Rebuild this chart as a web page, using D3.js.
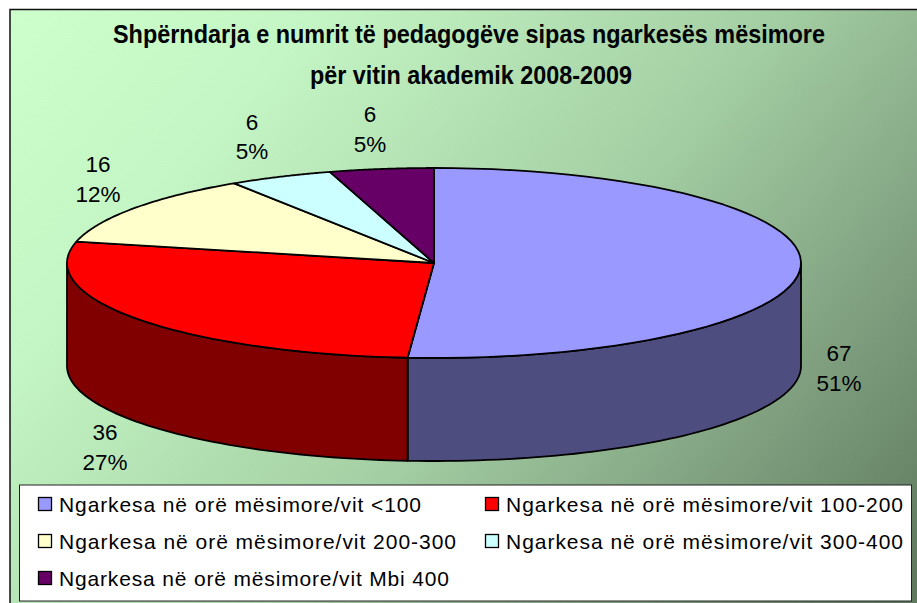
<!DOCTYPE html>
<html><head><meta charset="utf-8">
<style>html,body{margin:0;padding:0;background:#fff;overflow:hidden}svg{display:block}text{font-family:"Liberation Sans",Arial,sans-serif;fill:#000}</style>
<script src="https://cdn.jsdelivr.net/npm/d3@7"></script></head><body>
<script>
const categories=["Ngarkesa në orë mësimore/vit <100","Ngarkesa në orë mësimore/vit 100-200","Ngarkesa në orë mësimore/vit 200-300","Ngarkesa në orë mësimore/vit 300-400","Ngarkesa në orë mësimore/vit Mbi 400"];
const values=[67,36,16,6,6];
const percents=["51%","27%","12%","5%","5%"];
const topColors=["#9999ff","#ff0000","#ffffcc","#ccffff","#660066"];
const sideColors=["#4d4d80","#800000","#808066","#668080","#330033"];
const titleLines=["Shpërndarja e numrit të pedagogëve sipas ngarkesës mësimore","për vitin akademik 2008-2009"];

const W=917,H=603,cx=434,cy=263,rx=367,ry=95,depth=103;
const svg=d3.select("body").append("svg").attr("width",W).attr("height",H);
const defs=svg.append("defs");
const g=defs.append("linearGradient").attr("id","bg").attr("gradientUnits","userSpaceOnUse")
  .attr("x1",60).attr("y1",-40).attr("x2",860).attr("y2",640);
[[0,"#ccffcc"],[0.22,"#c4f5c4"],[0.55,"#a4cfa4"],[0.8,"#7f9f7f"],[1,"#5f7a5f"]].forEach(([o,c])=>g.append("stop").attr("offset",o).attr("stop-color",c));
svg.append("rect").attr("x",10).attr("y",9.5).attr("width",W+20).attr("height",H+20).attr("fill","url(#bg)").attr("stroke","#111").attr("stroke-width",1.5);

[[43,113,712],[84,310,322]].forEach(([y,x,len],i)=>{
  svg.append("text").attr("x",x).attr("y",y).attr("font-size",25).attr("font-weight","bold")
   .attr("textLength",len).attr("lengthAdjust","spacingAndGlyphs").text(titleLines[i]);
});

const X=d3.scaleLinear().domain([-1,1]).range([cx-rx,cx+rx]);
const Y=d3.scaleLinear().domain([-1,1]).range([cy+ry,cy-ry]);
const px=t=>X(Math.sin(t)),py=t=>Y(Math.cos(t));
const pie=d3.pie().sort(null)(values);
const samples=(a,b)=>d3.range(0,61).map(i=>a+(b-a)*i/60);
const line=d3.line();

// side walls
pie.forEach((d,i)=>{
  const a=Math.max(d.startAngle,Math.PI/2),b=Math.min(d.endAngle,3*Math.PI/2);
  if(a>=b)return;
  const s=samples(a,b);
  const pts=s.map(t=>[px(t),py(t)]).concat(s.slice().reverse().map(t=>[px(t),py(t)+depth]));
  svg.append("path").attr("d",line(pts)+"Z").attr("fill",sideColors[i]).attr("stroke","#000").attr("stroke-width",1.8).attr("stroke-linejoin","round");
});
// top faces
pie.forEach((d,i)=>{
  const pts=[[cx,cy]].concat(samples(d.startAngle,d.endAngle).map(t=>[px(t),py(t)]));
  svg.append("path").attr("d",line(pts)+"Z").attr("fill",topColors[i]).attr("stroke","#000").attr("stroke-width",1.8).attr("stroke-linejoin","round");
});

// data labels
const labelPos=[[839,361,391],[105,440,470],[98,172,202],[252,130,159],[370,122,152]];
values.forEach((v,i)=>{
  const [x,y1,y2]=labelPos[i];
  svg.append("text").attr("x",x).attr("y",y1).attr("text-anchor","middle").attr("font-size",22.5).text(v);
  svg.append("text").attr("x",x).attr("y",y2).attr("text-anchor","middle").attr("font-size",22.5).text(percents[i]);
});

// legend
svg.append("rect").attr("x",19.5).attr("y",485).attr("width",892).attr("height",116).attr("fill","#fff").attr("stroke","#222").attr("stroke-width",1);
const legendPos=[[38,59,362,512],[485,506,397,512],[38,59,397,549],[485,506,397,549],[38,59,390,586]];
categories.forEach((c,i)=>{
  const [sx,tx,len,y]=legendPos[i];
  svg.append("rect").attr("x",sx+.5).attr("y",y-14.5).attr("width",13).attr("height",13).attr("fill",topColors[i]).attr("stroke","#000").attr("stroke-width",1.3);
  svg.append("text").attr("x",tx).attr("y",y).attr("font-size",21).attr("textLength",len).attr("lengthAdjust","spacing").text(c);
});
</script></body></html>
